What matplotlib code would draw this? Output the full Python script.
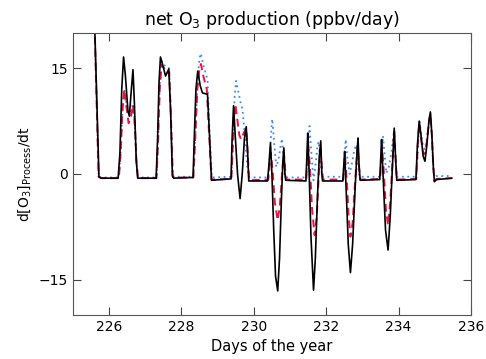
import matplotlib
matplotlib.use('Agg')
import matplotlib.pyplot as plt

# black (solid)
t_black = [225.58, 225.72, 225.78, 226.25, 226.30, 226.35, 226.40, 226.45, 226.52, 226.56, 226.60, 226.66,
           226.70, 226.75, 226.79, 227.30, 227.34, 227.38, 227.42, 227.48, 227.56, 227.65, 227.70, 227.75,
           227.78, 228.32, 228.36, 228.40, 228.45, 228.52, 228.58, 228.72, 228.77, 228.83, 229.37, 229.40,
           229.44, 229.48, 229.55, 229.62, 229.68, 229.74, 229.79, 229.83, 229.86, 230.38, 230.42, 230.46,
           230.50, 230.55, 230.60, 230.66, 230.71, 230.76, 230.80, 230.83, 230.86, 230.88, 231.44, 231.47,
           231.49, 231.53, 231.58, 231.65, 231.70, 231.76, 231.81, 231.85, 231.88, 231.90, 232.46, 232.49,
           232.51, 232.55, 232.61, 232.67, 232.73, 232.80, 232.85, 232.88, 232.91, 232.94, 233.48, 233.51,
           233.53, 233.57, 233.64, 233.71, 233.77, 233.83, 233.88, 233.92, 233.95, 234.48, 234.52, 234.57,
           234.62, 234.68, 234.73, 234.78, 234.84, 234.88, 234.92, 234.96, 234.99, 235.05, 235.47]
v_black = [25.0, -0.4, -0.6, -0.6, 3.0, 12.0, 16.6, 14.0, 9.0, 8.2, 11.0, 14.8,
           10.0, 2.0, -0.6, -0.6, 5.0, 13.0, 16.6, 15.5, 13.9, 14.9, 9.0, -0.3,
           -0.6, -0.5, 6.0, 12.0, 14.6, 12.5, 11.5, 11.3, 6.0, -0.9, -0.7, 5.0,
           9.7, 6.0, 0.0, -3.5, 0.0, 5.0, 6.7, 3.0, -1.0, -1.0, 1.5, 4.4,
           0.0, -8.0, -14.5, -16.6, -12.0, -4.0, 1.5, 3.7, 0.0, -0.9, -1.0, 3.0,
           5.8, 0.0, -9.0, -16.5, -12.0, -3.0, 2.5, 4.7, 0.0, -1.0, -1.0, 1.5,
           3.2, -2.0, -10.0, -14.0, -10.0, -2.0, 3.0, 5.1, 1.0, -0.9, -0.8, 2.5,
           4.9, 0.0, -8.0, -10.8, -6.0, 1.0, 6.5, 2.0, -0.9, -0.8, 4.0, 7.5,
           5.5, 2.5, 1.8, 4.0, 7.5, 8.8, 5.5, 1.0, -1.1, -0.8, -0.6]

# red (dashed)
t_red = [225.58, 225.71, 225.78, 226.27, 226.32, 226.37, 226.42, 226.48, 226.54, 226.60, 226.66, 226.71,
         226.76, 226.80, 227.31, 227.35, 227.40, 227.45, 227.52, 227.60, 227.66, 227.71, 227.76, 227.80,
         228.33, 228.38, 228.44, 228.50, 228.54, 228.60, 228.70, 228.76, 228.83, 229.38, 229.42, 229.46,
         229.49, 229.55, 229.60, 229.65, 229.72, 229.79, 229.83, 229.87, 230.40, 230.44, 230.47, 230.52,
         230.58, 230.66, 230.72, 230.78, 230.83, 230.86, 230.89, 231.45, 231.48, 231.50, 231.55, 231.61,
         231.68, 231.74, 231.80, 231.84, 231.88, 231.91, 232.47, 232.50, 232.52, 232.57, 232.62, 232.67,
         232.73, 232.80, 232.87, 232.91, 232.94, 233.49, 233.52, 233.54, 233.59, 233.65, 233.71, 233.77,
         233.83, 233.88, 233.92, 233.95, 234.49, 234.53, 234.57, 234.62, 234.68, 234.73, 234.78, 234.84,
         234.88, 234.92, 234.96, 234.99, 235.05, 235.47]
v_red = [25.0, -0.4, -0.6, -0.6, 3.0, 9.0, 12.0, 9.5, 7.2, 8.0, 9.8, 7.0,
         1.5, -0.6, -0.6, 4.0, 12.0, 15.5, 15.0, 14.3, 14.5, 8.0, -0.3, -0.5,
         -0.5, 5.0, 12.0, 15.0, 15.6, 14.0, 12.0, 6.0, -0.8, -0.7, 4.0, 8.0,
         9.9, 7.5, 5.5, 4.9, 5.8, 6.5, 3.0, -0.9, -0.8, 1.5, 3.0, 0.5,
         -4.0, -6.6, -4.5, 0.0, 3.0, 1.0, -0.8, -0.8, 2.5, 4.5, 1.0, -5.0,
         -8.7, -6.0, 0.5, 3.5, 1.0, -0.8, -0.8, 1.2, 2.5, -1.0, -6.0, -8.9,
         -7.0, -1.0, 4.0, 1.0, -0.8, -0.7, 2.0, 4.0, 0.5, -5.0, -7.3, -4.0,
         1.5, 6.0, 2.0, -0.8, -0.7, 4.0, 7.2, 5.0, 3.0, 2.8, 4.5, 7.5,
         8.6, 5.5, 1.0, -1.0, -0.7, -0.6]

# blue (dotted)
t_blue = [225.58, 225.71, 225.78, 226.27, 226.32, 226.37, 226.42, 226.48, 226.55, 226.61, 226.66, 226.71,
          226.76, 226.80, 227.31, 227.35, 227.40, 227.46, 227.52, 227.60, 227.66, 227.71, 227.76, 227.80,
          228.33, 228.38, 228.44, 228.50, 228.54, 228.60, 228.72, 228.77, 228.84, 229.38, 229.42, 229.47,
          229.51, 229.58, 229.64, 229.69, 229.74, 229.80, 229.85, 229.88, 230.40, 230.44, 230.48, 230.51,
          230.56, 230.62, 230.68, 230.74, 230.78, 230.82, 230.86, 230.89, 231.45, 231.49, 231.54, 231.59,
          231.65, 231.71, 231.76, 231.79, 231.84, 231.89, 232.47, 232.50, 232.54, 232.59, 232.65, 232.71,
          232.78, 232.83, 232.87, 232.92, 233.49, 233.53, 233.57, 233.61, 233.66, 233.73, 233.80, 233.87,
          233.91, 233.95, 234.49, 234.53, 234.58, 234.63, 234.68, 234.73, 234.78, 234.84, 234.88, 234.92,
          234.96, 234.99, 235.05, 235.47]
v_blue = [25.0, -0.4, -0.5, -0.5, 3.0, 9.0, 12.0, 10.0, 8.5, 9.0, 10.0, 7.0,
          1.5, -0.5, -0.5, 4.0, 12.5, 16.0, 15.5, 15.0, 15.0, 8.0, -0.2, -0.4,
          -0.4, 5.0, 13.0, 16.5, 17.1, 15.5, 13.4, 7.0, -0.5, -0.4, 5.0, 11.0,
          13.2, 11.5, 10.0, 9.1, 6.0, 2.0, -0.3, -0.5, -0.5, 2.0, 6.0, 7.8,
          4.5, 1.0, 2.0, 4.0, 5.0, 2.0, -0.3, -0.5, -0.5, 3.0, 6.8, 3.0,
          -0.9, 1.5, 4.0, 4.6, 1.5, -0.4, -0.4, 2.0, 4.9, 2.0, 0.0, 1.5,
          3.5, 4.1, 1.5, -0.4, -0.4, 2.5, 5.4, 3.0, 0.1, 1.0, 3.0, 6.0,
          3.0, -0.4, -0.4, 3.5, 7.5, 5.5, 3.8, 3.5, 5.0, 7.5, 8.5, 5.5,
          1.5, -0.5, -0.3, -0.3]

fig = plt.figure(figsize=(4.86, 3.59), dpi=100)
ax = fig.add_axes([0.150, 0.123, 0.819, 0.785])

ax.plot(t_blue, v_blue, color='#3d8bff', linestyle=(0, (1, 2)), linewidth=1.3)
ax.plot(t_red, v_red, color='#ee1144', linestyle=(0, (4, 2.5)), linewidth=1.4)
ax.plot(t_black, v_black, color='black', linestyle='-', linewidth=1.2)

ax.set_xlim(225, 236)
ax.set_ylim(-20, 20)
ax.set_xticks([226, 228, 230, 232, 234, 236])
ax.set_yticks([-15, 0, 15])
ax.tick_params(direction='in', top=True, right=True, length=6, labelsize=10, colors='#444444',
               labelcolor='black')
for s in ax.spines.values():
    s.set_color('#555555')

ax.set_title('net O$_3$ production (ppbv/day)', fontsize=12.5)
ax.set_xlabel('Days of the year', fontsize=10.5)
ax.set_ylabel(r'd[O$_3$]$_{\mathrm{Process}}$/dt', fontsize=10)

fig.savefig('out.png', dpi=100)
